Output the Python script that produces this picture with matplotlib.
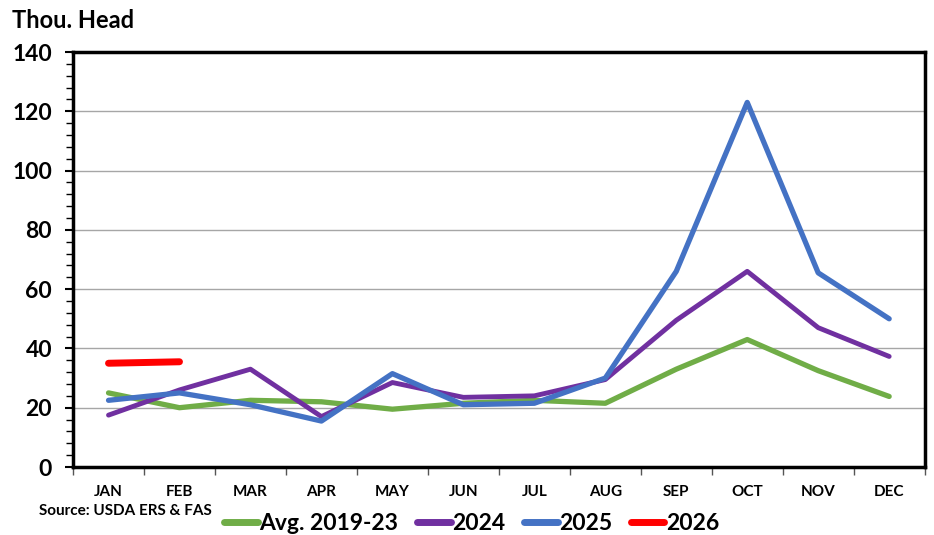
import matplotlib
matplotlib.use("Agg")
import matplotlib.pyplot as plt
from matplotlib.ticker import MultipleLocator, FixedLocator

months = ["JAN", "FEB", "MAR", "APR", "MAY", "JUN", "JUL", "AUG", "SEP", "OCT", "NOV", "DEC"]
avg_2019_23 = [25, 20, 22.5, 22, 19.5, 21.5, 22.5, 21.5, 33, 43, 32.5, 23.8]
y2024 = [17.5, 26, 33, 17, 28.5, 23.5, 24, 29.5, 49.5, 66, 47, 37.3]
y2025 = [22.5, 25, 21, 15.5, 31.5, 21, 21.5, 30, 66, 123, 65.5, 50]
y2026 = [35, 35.5]
series_names = ["Avg. 2019-23", "2024", "2025", "2026"]

plt.rcParams['font.family'] = ['Lato', 'DejaVu Sans']
plt.rcParams['font.weight'] = 'bold'

fig = plt.figure(figsize=(9.34, 5.35), dpi=100)
ax = fig.add_axes([0.0782, 0.1271, 0.9118, 0.7757])

x = list(range(len(months)))
ax.plot(x, avg_2019_23, color="#70AD47", lw=3.8, label=series_names[0], solid_capstyle='round', solid_joinstyle='round')
ax.plot(x, y2024, color="#7030A0", lw=3.5, label=series_names[1], solid_capstyle='round', solid_joinstyle='round')
ax.plot(x, y2025, color="#4472C4", lw=3.8, label=series_names[2], solid_capstyle='round', solid_joinstyle='round')
ax.plot(x[:len(y2026)], y2026, color="#FF0000", lw=5, label=series_names[3], solid_capstyle='round')

ax.set_xlim(-0.5, 11.5)
ax.set_ylim(0, 140)
ax.yaxis.set_major_locator(MultipleLocator(20))
ax.yaxis.set_minor_locator(MultipleLocator(4))
ax.grid(axis='y', which='major', color='#A6A6A6', lw=1)
ax.set_axisbelow(True)

ax.set_xticks(x)
ax.set_xticklabels(months)
ax.xaxis.set_minor_locator(FixedLocator([i - 0.5 for i in range(13)]))
ax.tick_params(axis='x', which='major', length=0, pad=13, labelsize=11)
ax.tick_params(axis='x', which='minor', length=6, width=1, direction='out', color='#555555')
ax.tick_params(axis='y', which='major', length=6, width=1.5, labelsize=16.5, pad=9)
ax.tick_params(axis='y', which='minor', length=5, width=1)
for lab in ax.get_xticklabels() + ax.get_yticklabels():
    lab.set_fontweight('bold')

for s in ax.spines.values():
    s.set_linewidth(2.5)
    s.set_color('black')

fig.text(0.013, 0.962, "Thou. Head", fontsize=17, fontweight='bold', ha='left', va='center')
fig.text(0.042, 0.045, "Source: USDA ERS & FAS", fontsize=11, fontweight='bold', ha='left', va='center')

leg = fig.legend(loc='center', bbox_to_anchor=(0.505, 0.022), ncol=4, frameon=False,
                 prop={'size': 16.5, 'weight': 'bold'}, handlelength=1.45, handletextpad=0.05,
                 columnspacing=0.85)
for h in leg.get_lines():
    h.set_linewidth(5)
    h.set_solid_capstyle('round')

fig.savefig("out.png", dpi=100)
